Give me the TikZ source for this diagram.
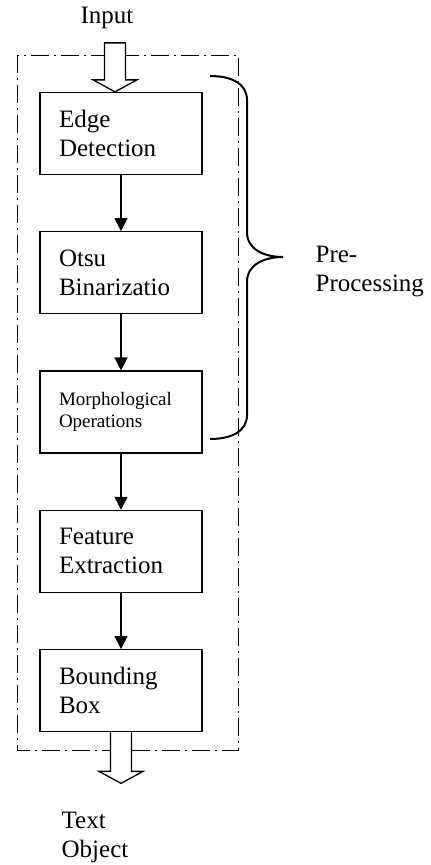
\documentclass[tikz,border=0pt]{standalone}
\usepackage{fontspec}
\setmainfont{Liberation Serif}
\usetikzlibrary{arrows.meta, positioning, calc}
\tikzset{
    flowchart/.style={>={Triangle[length=13pt, width=13pt]}, line width=1.3pt, font=\fontsize{25}{29}\selectfont, node distance=56pt},
    stage/.style={draw, line width=1.3pt, minimum width=162pt, minimum height=82pt, text width=124pt, inner xsep=19pt, align=left},
    plaintext/.style={align=left, inner sep=0pt},
    % dash-dot outline round the whole system
    outline/.style={line width=1pt, dash pattern=on 18pt off 5pt on 2pt off 5pt},
    bigarrow/.style={draw, line width=1.3pt, fill=white},
    bracket/.style={line width=2pt},
}
\begin{document}
\begin{tikzpicture}[flowchart, x=1pt, y=-1pt]
    \useasboundingbox (0,0) rectangle (431,865);

    \node[stage]                 (edge)  at (121,133.5) {Edge\\Detection};
    \node[stage, below=of edge]  (otsu)  {Otsu\\Binarizatio};
    \node[stage, below=of otsu, font=\fontsize{19}{22}\selectfont] (morph) {Morphological\\Operations};
    \node[stage, below=of morph] (feat)  {Feature\\Extraction};
    \node[stage, below=of feat]  (bbox)  {Bounding\\Box};

    \node[plaintext]               (input)  at (107,18)  {Input};
    \node[plaintext, anchor=west]  (result) at (61,837)  {Text\\Object};
    \node[plaintext, anchor=west]  (pre)    at (315,272) {Pre-\\Processing};

    \draw[outline] (17,55) rectangle (238,750);

    \draw[->] (edge) -- (otsu);
    \draw[->] (otsu) -- (morph);
    \draw[->] (morph) -- (feat);
    \draw[->] (feat) -- (bbox);

    % hollow arrows in and out
    \draw[bigarrow] ($(edge.north)+(-6,0)$) -- ++(-22,-12) -- ++(11.5,0) -- ++(0,-37)
        -- ++(21,0) -- ++(0,37) -- ++(11.5,0) -- cycle;
    \draw[bigarrow] ($(bbox.south)+(-10.5,0)$) -- ++(0,39) -- ++(-11.5,0) -- ++(22,12)
        -- ++(22,-12) -- ++(-11.5,0) -- ++(0,-39);

    \draw[bracket] (210,76) .. controls (232,76) and (247,84) .. (247,100) -- (247,232)
        .. controls (247,250) and (265,257) .. (283,257)
        .. controls (265,257) and (247,264) .. (247,282) -- (247,415)
        .. controls (247,431) and (232,439) .. (210,439);
\end{tikzpicture}
\end{document}
